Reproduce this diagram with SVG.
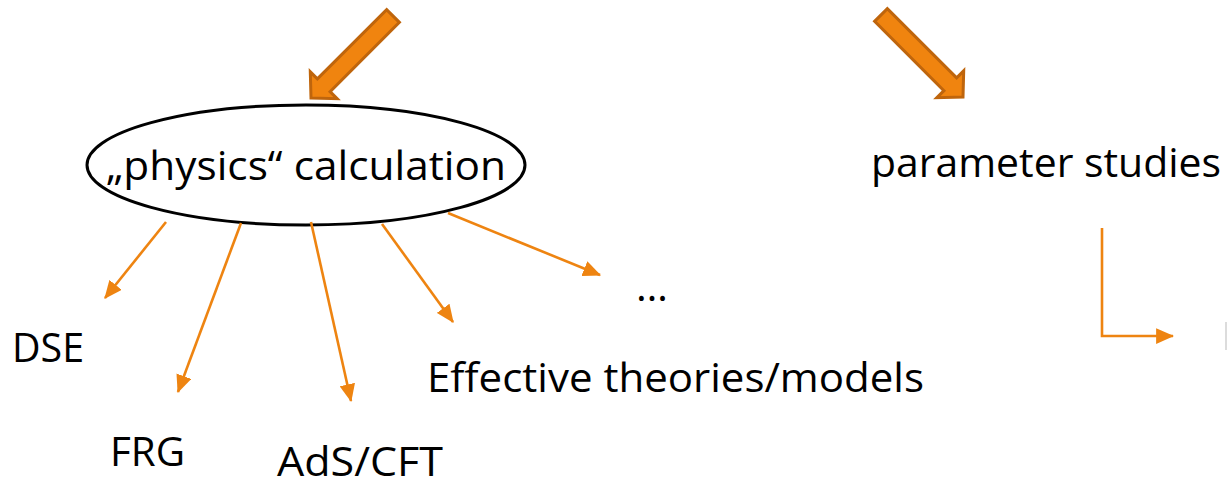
<svg xmlns="http://www.w3.org/2000/svg" width="1227" height="487" viewBox="0 0 1227 487">
<style>
.lbl{font-family:"Open Sans","Noto Sans","Liberation Sans",sans-serif;font-size:41px;fill:#000;}
.con{fill:none;stroke:#EE8411;stroke-width:2.6;}
.big{fill:#F0840F;stroke:#BF650C;stroke-width:3;stroke-linejoin:miter;}
</style>
<defs>
<marker id="ah" markerUnits="userSpaceOnUse" markerWidth="18" markerHeight="16" viewBox="0 0 16 14" refX="15" refY="7" orient="auto">
<path d="M0,0 L16,7 L0,14 Z" fill="#EE8411"/>
</marker>
<path id="bigArrow" d="M0,0 L-18,-19 L-18,-9 L-116,-9 L-116,9 L-18,9 L-18,19 Z"/>
</defs>
<rect width="1227" height="487" fill="#fff"/>
<g id="arrow-left"><use href="#bigArrow" class="big" transform="translate(311,98) rotate(135)"/></g>
<g id="arrow-right"><use href="#bigArrow" class="big" transform="translate(963,97) rotate(45)"/></g>
<g id="node-physics">
<ellipse cx="306" cy="165" rx="219" ry="60" fill="none" stroke="#000" stroke-width="3"/>
<text class="lbl" x="106" y="180" textLength="400" lengthAdjust="spacingAndGlyphs">„physics“ calculation</text>
</g>
<g id="node-parameter"><text class="lbl" x="871" y="177" textLength="350" lengthAdjust="spacingAndGlyphs">parameter studies</text></g>
<g id="node-dse"><text class="lbl" x="12" y="362" textLength="72" lengthAdjust="spacingAndGlyphs">DSE</text></g>
<g id="node-frg"><text class="lbl" x="110" y="466" textLength="75" lengthAdjust="spacingAndGlyphs">FRG</text></g>
<g id="node-ads"><text class="lbl" x="277" y="476" textLength="166" lengthAdjust="spacingAndGlyphs">AdS/CFT</text></g>
<g id="node-eff"><text class="lbl" x="427" y="392" textLength="497" lengthAdjust="spacingAndGlyphs">Effective theories/models</text></g>
<g id="node-more"><text class="lbl" x="636" y="301">…</text></g>
<g id="connectors">
<path class="con" d="M166,222 L105,298" marker-end="url(#ah)"/>
<path class="con" d="M241,223 L178,392" marker-end="url(#ah)"/>
<path class="con" d="M311,222 L351,401" marker-end="url(#ah)"/>
<path class="con" d="M382,224 L453,322" marker-end="url(#ah)"/>
<path class="con" d="M448,213 L600,275" marker-end="url(#ah)"/>
<path class="con" stroke-width="3" d="M1102,228 V336 H1173" marker-end="url(#ah)"/>
</g>
<line x1="1226" y1="322" x2="1226" y2="350" stroke="#d0d0d0" stroke-width="1.5"/>
</svg>
